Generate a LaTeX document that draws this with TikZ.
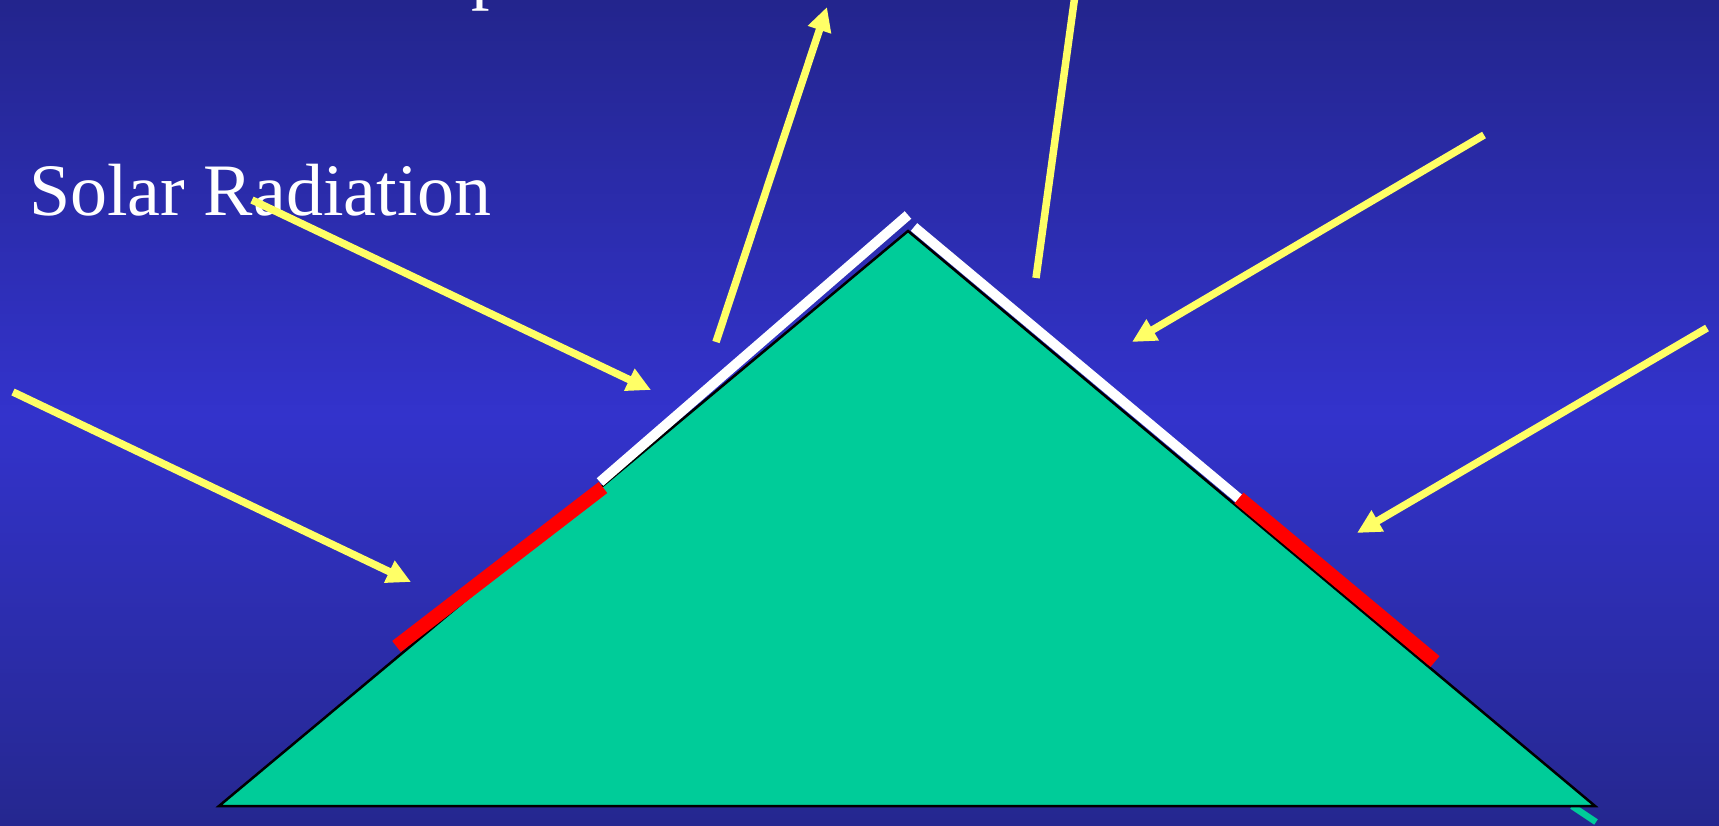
\documentclass[tikz,border=0pt]{standalone}
\usepackage{fontspec}
\setmainfont{Liberation Serif}
\usetikzlibrary{arrows.meta}
\definecolor{bgtop}{RGB}{35,37,141}
\definecolor{bgmid}{RGB}{51,51,204}
\definecolor{bgbot}{RGB}{37,39,143}
\definecolor{mtngreen}{RGB}{0,204,153}
\definecolor{rayyellow}{RGB}{255,255,102}
\begin{document}
\begin{tikzpicture}[x=1pt,y=-1pt,
  ray/.style={draw=rayyellow, line width=7.5pt},
  rayarrow/.style={ray, -{Triangle[length=24pt,width=23pt]}},
  whitebar/.style={draw=white, line width=10pt},
  redbar/.style={draw=red, line width=14pt},
  label/.style={anchor=base west, inner sep=0pt, text=white, font=\fontsize{74}{80}\selectfont}]
\useasboundingbox (0,0) rectangle (1719,826);
\clip (0,0) rectangle (1719,826);
% background gradient (dark - bright - dark)
\foreach \i in {0,...,100}{
  \pgfmathtruncatemacro{\pp}{100-\i}
  \colorlet{bgstripe}{bgtop!\pp!bgmid}
  \fill[bgstripe] (0,{4.13*\i}) rectangle (1719,{4.13*\i+5});
}
\foreach \i in {0,...,100}{
  \colorlet{bgstripe}{bgbot!\i!bgmid}
  \fill[bgstripe] (0,{413+4.13*\i}) rectangle (1719,{413+4.13*\i+5});
}

% mountain
\coordinate (L) at (219,806);
\coordinate (A) at (908,231);
\coordinate (R) at (1595,806);
\coordinate (s1) at (1572,806);
\coordinate (s2) at (1596,822);
\draw[draw=mtngreen, line width=6.5pt] (s1) -- (s2);
\draw[fill=mtngreen, draw=black, line width=2.5pt] (L) -- (A) -- (R) -- cycle;

% albedo bars
\coordinate (wl1) at (600,482);
\coordinate (wl2) at (908,215);
\coordinate (wr1) at (914,227);
\coordinate (wr2) at (1243,502);
\draw[whitebar] (wl1) -- (wl2);
\draw[whitebar] (wr1) -- (wr2);
\coordinate (rl1) at (396.5,646.5);
\coordinate (rl2) at (603,487.5);
\coordinate (rr1) at (1239,498);
\coordinate (rr2) at (1435,661.5);
\draw[redbar] (rl1) -- (rl2);
\draw[redbar] (rr1) -- (rr2);

% texts
\node[label] (solar) at (29,216) {Solar Radiation};
\node[label] (ptop) at (471,-4) {p};

% rays
\coordinate (a1s) at (13,392);   \coordinate (a1e) at (411,582);
\coordinate (a2s) at (252,200);  \coordinate (a2e) at (651,390);
\coordinate (a3s) at (716,342);  \coordinate (a3e) at (827,7);
\coordinate (l4s) at (1075,-5);  \coordinate (l4e) at (1036,278);
\coordinate (a5s) at (1484,135); \coordinate (a5e) at (1132,342);
\coordinate (a6s) at (1707,328); \coordinate (a6e) at (1357,533);
\draw[rayarrow] (a1s) -- (a1e);
\draw[rayarrow] (a2s) -- (a2e);
\draw[rayarrow] (a3s) -- (a3e);
\draw[ray] (l4s) -- (l4e);
\draw[rayarrow] (a5s) -- (a5e);
\draw[rayarrow] (a6s) -- (a6e);
\end{tikzpicture}
\end{document}
